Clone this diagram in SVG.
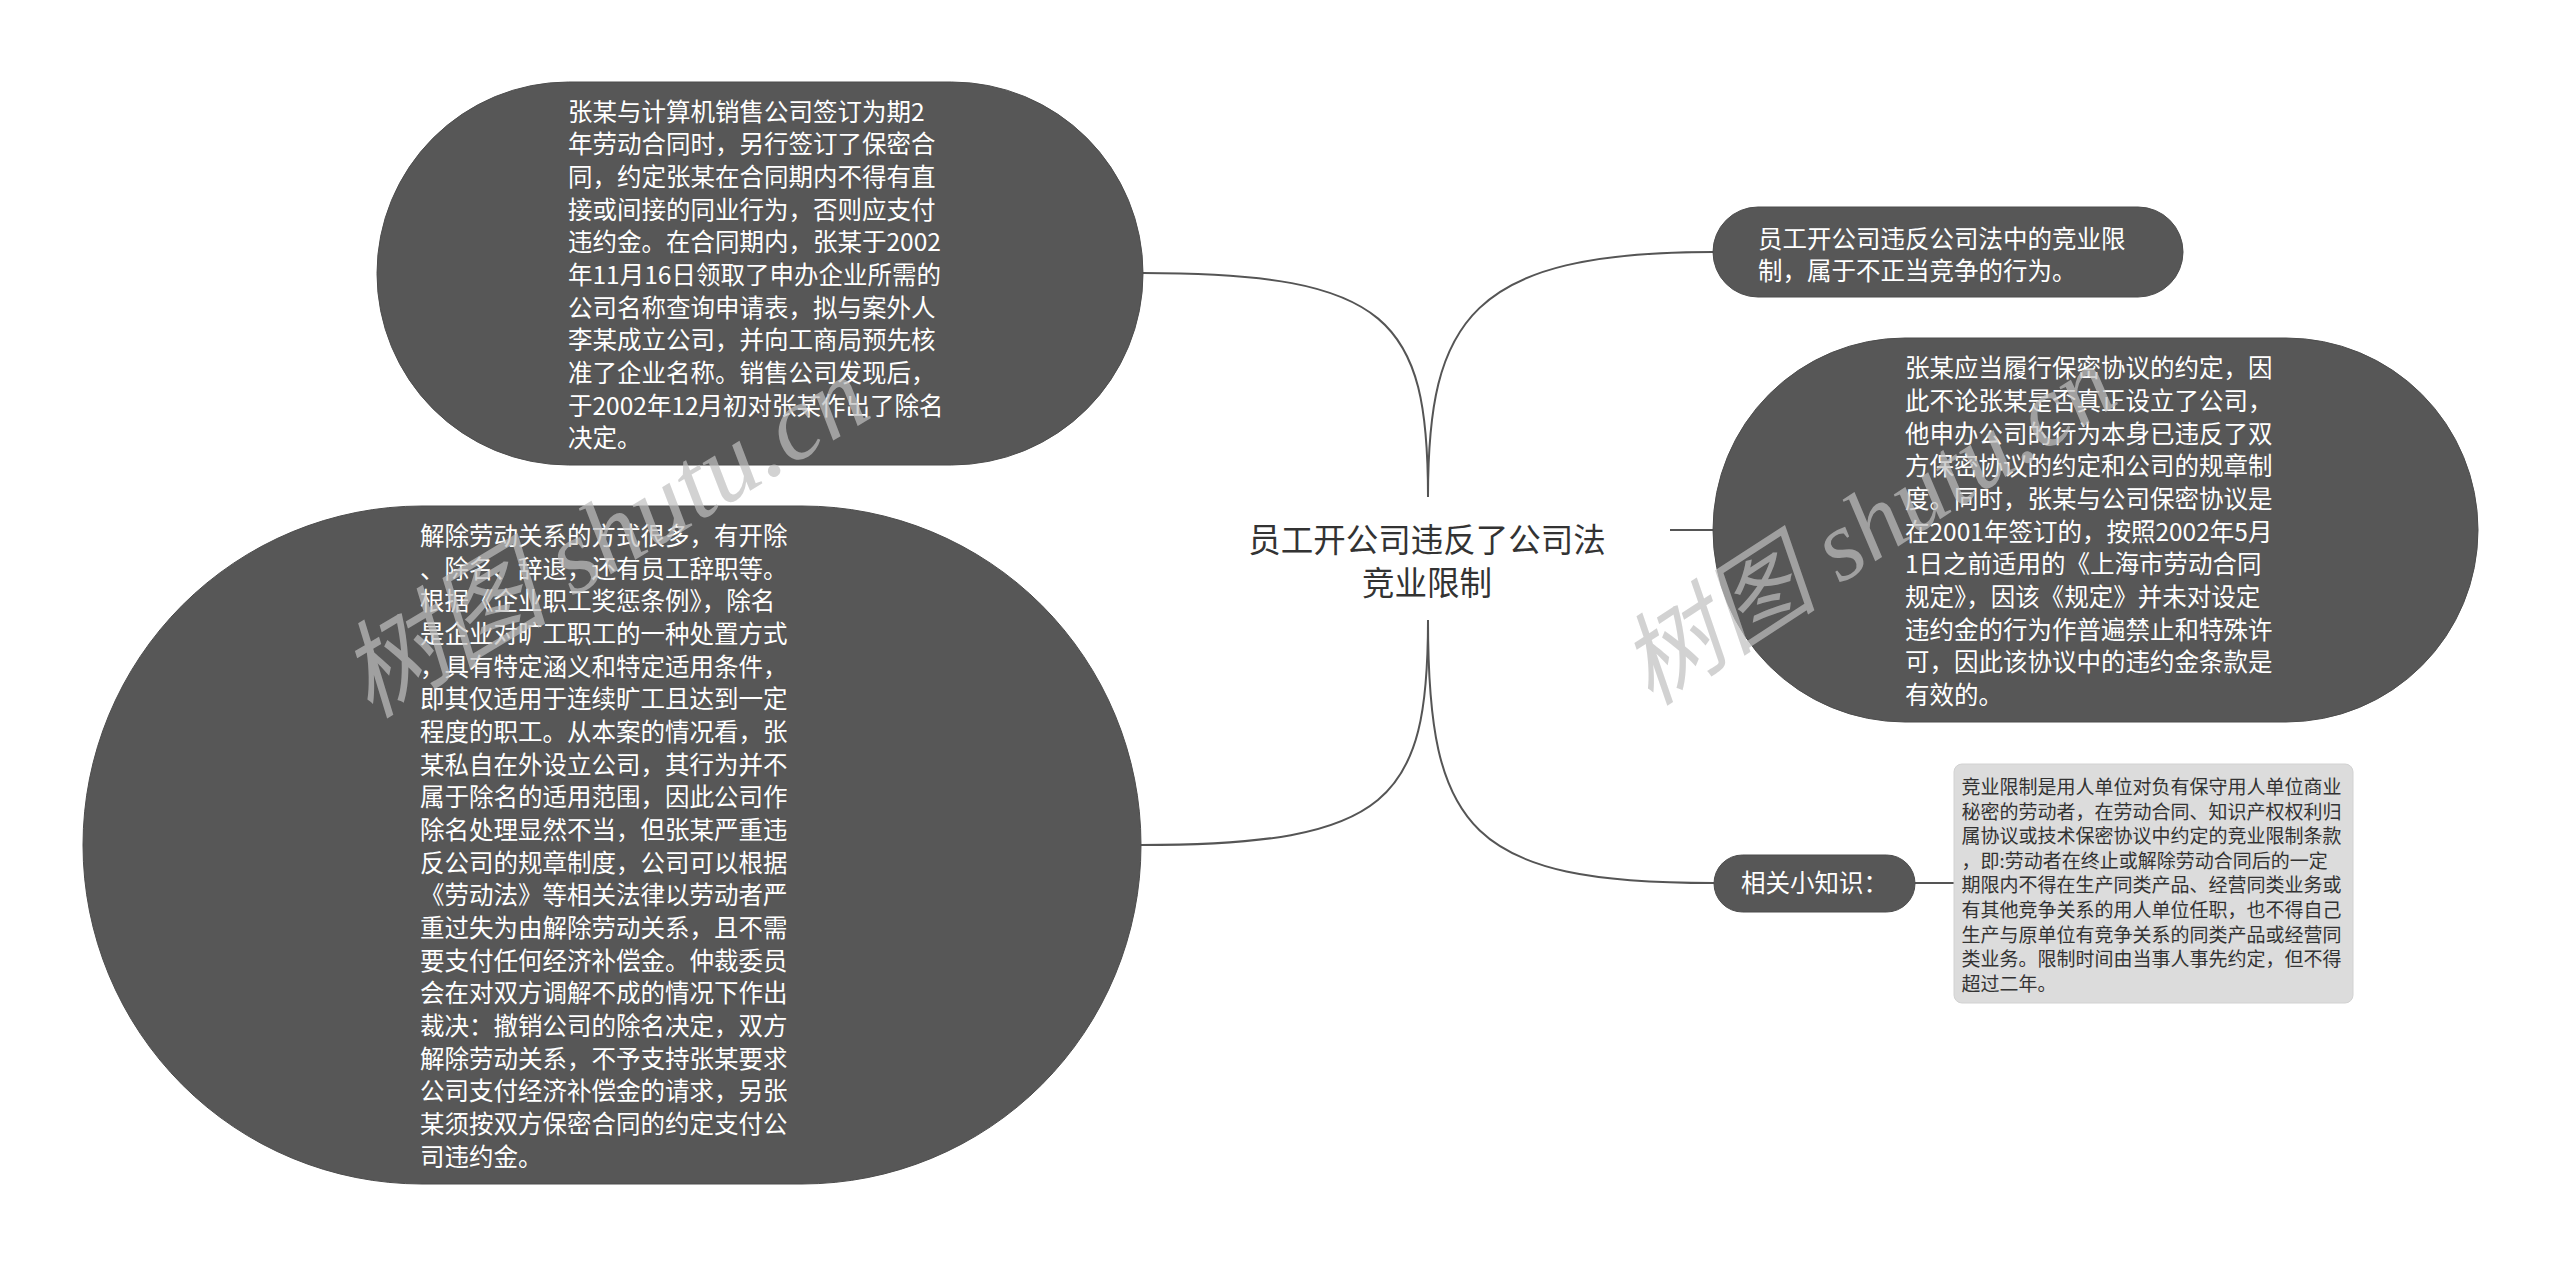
<svg xmlns="http://www.w3.org/2000/svg" width="2560" height="1267" viewBox="0 0 2560 1267">
<style>
.bg{fill:#ffffff}
.node{fill:#575757;stroke:#4d4d4d;stroke-width:1}
.box{fill:#dcdcdc;stroke:#d2d2d2;stroke-width:1}
.wt{font-family:"Noto Sans CJK SC","Noto Sans",sans-serif;font-size:24.5px;fill:#ffffff}
.bt{font-family:"Noto Sans CJK SC","Noto Sans",sans-serif;font-size:19px;fill:#333333}
.ct{font-family:"Noto Sans CJK SC","Noto Sans",sans-serif;font-size:32.5px;fill:#333333;text-anchor:middle}
.link{fill:none;stroke:#555555;stroke-width:2}
.wm{font-family:"Liberation Serif","Noto Sans CJK SC",serif;font-style:italic;fill:#c0c0c0;opacity:0.7}
</style>
<rect class="bg" x="0" y="0" width="2560" height="1267"/>
<g id="connectors">
<path class="link" d="M1428 497 C1428 320 1390 273 1143 273"/>
<path class="link" d="M1428 497 C1428 320 1470 252 1713 252"/>
<path class="link" d="M1670 530 L1713 530"/>
<path class="link" d="M1428 620 C1428 800 1390 845 1141 845"/>
<path class="link" d="M1428 620 C1428 830 1470 883 1714 883"/>
<path class="link" d="M1915 883 L1954 883"/>
</g>
<g id="center">
<text class="ct" x="1427" y="552">员工开公司违反了公司法</text>
<text class="ct" x="1427" y="595">竞业限制</text>
</g>
<g id="node1">
<rect class="node" x="377" y="82" width="766" height="383" rx="191.5" ry="191.5"/>
<text class="wt" x="568">
<tspan x="568" y="120.7">张某与计算机销售公司签订为期2</tspan>
<tspan x="568" y="153.4">年劳动合同时，另行签订了保密合</tspan>
<tspan x="568" y="186.1">同，约定张某在合同期内不得有直</tspan>
<tspan x="568" y="218.7">接或间接的同业行为，否则应支付</tspan>
<tspan x="568" y="251.4">违约金。在合同期内，张某于2002</tspan>
<tspan x="568" y="284.1">年11月16日领取了申办企业所需的</tspan>
<tspan x="568" y="316.7">公司名称查询申请表，拟与案外人</tspan>
<tspan x="568" y="349.4">李某成立公司，并向工商局预先核</tspan>
<tspan x="568" y="382.1">准了企业名称。销售公司发现后，</tspan>
<tspan x="568" y="414.7">于2002年12月初对张某作出了除名</tspan>
<tspan x="568" y="447.4">决定。</tspan>
</text>
</g>
<g id="node2">
<rect class="node" x="83" y="506" width="1058" height="678" rx="339" ry="339"/>
<text class="wt">
<tspan x="420" y="544.8">解除劳动关系的方式很多，有开除</tspan>
<tspan x="420" y="577.5">、除名、辞退，还有员工辞职等。</tspan>
<tspan x="420" y="610.1">根据《企业职工奖惩条例》，除名</tspan>
<tspan x="420" y="642.8">是企业对旷工职工的一种处置方式</tspan>
<tspan x="420" y="675.5">，具有特定涵义和特定适用条件，</tspan>
<tspan x="420" y="708.1">即其仅适用于连续旷工且达到一定</tspan>
<tspan x="420" y="740.8">程度的职工。从本案的情况看，张</tspan>
<tspan x="420" y="773.5">某私自在外设立公司，其行为并不</tspan>
<tspan x="420" y="806.2">属于除名的适用范围，因此公司作</tspan>
<tspan x="420" y="838.8">除名处理显然不当，但张某严重违</tspan>
<tspan x="420" y="871.5">反公司的规章制度，公司可以根据</tspan>
<tspan x="420" y="904.2">《劳动法》等相关法律以劳动者严</tspan>
<tspan x="420" y="936.8">重过失为由解除劳动关系，且不需</tspan>
<tspan x="420" y="969.5">要支付任何经济补偿金。仲裁委员</tspan>
<tspan x="420" y="1002.2">会在对双方调解不成的情况下作出</tspan>
<tspan x="420" y="1034.8">裁决：撤销公司的除名决定，双方</tspan>
<tspan x="420" y="1067.5">解除劳动关系，不予支持张某要求</tspan>
<tspan x="420" y="1100.2">公司支付经济补偿金的请求，另张</tspan>
<tspan x="420" y="1132.8">某须按双方保密合同的约定支付公</tspan>
<tspan x="420" y="1165.5">司违约金。</tspan>
</text>
</g>
<g id="node3">
<rect class="node" x="1713" y="207" width="470" height="90" rx="45" ry="45"/>
<text class="wt">
<tspan x="1758" y="247.6">员工开公司违反公司法中的竞业限</tspan>
<tspan x="1758" y="280.3">制，属于不正当竞争的行为。</tspan>
</text>
</g>
<g id="node4">
<rect class="node" x="1713" y="338" width="765" height="384" rx="192" ry="192"/>
<text class="wt">
<tspan x="1905" y="377.3">张某应当履行保密协议的约定，因</tspan>
<tspan x="1905" y="410">此不论张某是否真正设立了公司，</tspan>
<tspan x="1905" y="442.6">他申办公司的行为本身已违反了双</tspan>
<tspan x="1905" y="475.3">方保密协议的约定和公司的规章制</tspan>
<tspan x="1905" y="508">度。同时，张某与公司保密协议是</tspan>
<tspan x="1905" y="540.6">在2001年签订的，按照2002年5月</tspan>
<tspan x="1905" y="573.3">1日之前适用的《上海市劳动合同</tspan>
<tspan x="1905" y="606">规定》，因该《规定》并未对设定</tspan>
<tspan x="1905" y="638.6">违约金的行为作普遍禁止和特殊许</tspan>
<tspan x="1905" y="671.3">可，因此该协议中的违约金条款是</tspan>
<tspan x="1905" y="704">有效的。</tspan>
</text>
</g>
<g id="node5">
<rect class="node" x="1714" y="855" width="201" height="57" rx="28.5" ry="28.5"/>
<text class="wt" x="1814.5" y="892" text-anchor="middle">相关小知识：</text>
</g>
<g id="node6">
<rect class="box" x="1954" y="764" width="399" height="239" rx="8" ry="8"/>
<text class="bt">
<tspan x="1961.5" y="793.9">竞业限制是用人单位对负有保守用人单位商业</tspan>
<tspan x="1961.5" y="818.5">秘密的劳动者，在劳动合同、知识产权权利归</tspan>
<tspan x="1961.5" y="843.1">属协议或技术保密协议中约定的竞业限制条款</tspan>
<tspan x="1961.5" y="867.7">，即:劳动者在终止或解除劳动合同后的一定</tspan>
<tspan x="1961.5" y="892.3">期限内不得在生产同类产品、经营同类业务或</tspan>
<tspan x="1961.5" y="916.9">有其他竞争关系的用人单位任职，也不得自己</tspan>
<tspan x="1961.5" y="941.5">生产与原单位有竞争关系的同类产品或经营同</tspan>
<tspan x="1961.5" y="966.1">类业务。限制时间由当事人事先约定，但不得</tspan>
<tspan x="1961.5" y="990.7">超过二年。</tspan>
</text>
</g>
<g id="watermarks">
<text class="wm" font-size="105" transform="translate(370 719) rotate(-31)">树图 shutu.cn</text>
<text class="wm" font-size="100" transform="translate(1651 707) rotate(-33)">树图 shutu.cn</text>
</g>
</svg>
